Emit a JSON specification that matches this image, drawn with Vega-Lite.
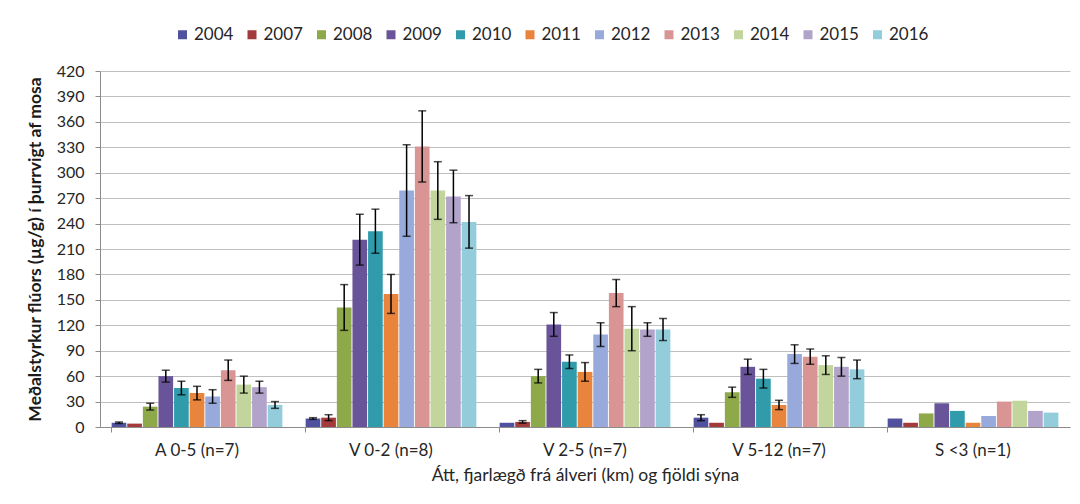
{
  "$schema": "https://vega.github.io/schema/vega-lite/v6.json",
  "width": 970,
  "height": 356,
  "autosize": {"type": "none"},
  "padding": {"left": 100, "top": 71, "right": 10, "bottom": 77},
  "background": "white",
  "config": {
    "font": "Lato",
    "view": {"stroke": null},
    "axis": {"labelFont": "Lato", "titleFont": "Lato"},
    "axisY": {
      "titleFontSize": 17.5,
      "titleFontWeight": "bold",
      "titleColor": "#1a1a1a",
      "titlePadding": 12,
      "labelOverlap": false,
      "labelFontSize": 16,
      "labelColor": "#262626",
      "labelPadding": 11,
      "domainColor": "#8c8c8c",
      "tickColor": "#8c8c8c",
      "tickSize": 5,
      "gridColor": "#bfbfbf",
      "gridWidth": 1
    }
  },
  "data": {
    "values": [
      {"group": "A 0-5 (n=7)", "year": "2004", "value": 5, "lo": 4, "hi": 6},
      {"group": "A 0-5 (n=7)", "year": "2007", "value": 4, "lo": null, "hi": null},
      {"group": "A 0-5 (n=7)", "year": "2008", "value": 24, "lo": 20, "hi": 28},
      {"group": "A 0-5 (n=7)", "year": "2009", "value": 60, "lo": 53, "hi": 67},
      {"group": "A 0-5 (n=7)", "year": "2010", "value": 46, "lo": 38, "hi": 54},
      {"group": "A 0-5 (n=7)", "year": "2011", "value": 40, "lo": 32, "hi": 48},
      {"group": "A 0-5 (n=7)", "year": "2012", "value": 36, "lo": 28, "hi": 44},
      {"group": "A 0-5 (n=7)", "year": "2013", "value": 67, "lo": 55, "hi": 79},
      {"group": "A 0-5 (n=7)", "year": "2014", "value": 50, "lo": 40, "hi": 60},
      {"group": "A 0-5 (n=7)", "year": "2015", "value": 47, "lo": 40, "hi": 54},
      {"group": "A 0-5 (n=7)", "year": "2016", "value": 26, "lo": 22, "hi": 30},
      {"group": "V 0-2 (n=8)", "year": "2004", "value": 10, "lo": 9, "hi": 11},
      {"group": "V 0-2 (n=8)", "year": "2007", "value": 11, "lo": 7.5, "hi": 14.5},
      {"group": "V 0-2 (n=8)", "year": "2008", "value": 141, "lo": 114, "hi": 168},
      {"group": "V 0-2 (n=8)", "year": "2009", "value": 221, "lo": 191, "hi": 251},
      {"group": "V 0-2 (n=8)", "year": "2010", "value": 231, "lo": 205, "hi": 257},
      {"group": "V 0-2 (n=8)", "year": "2011", "value": 157, "lo": 134, "hi": 180},
      {"group": "V 0-2 (n=8)", "year": "2012", "value": 279, "lo": 225, "hi": 333},
      {"group": "V 0-2 (n=8)", "year": "2013", "value": 331, "lo": 289, "hi": 373},
      {"group": "V 0-2 (n=8)", "year": "2014", "value": 279, "lo": 245, "hi": 313},
      {"group": "V 0-2 (n=8)", "year": "2015", "value": 272, "lo": 241, "hi": 303},
      {"group": "V 0-2 (n=8)", "year": "2016", "value": 242, "lo": 211, "hi": 273},
      {"group": "V 2-5 (n=7)", "year": "2004", "value": 5, "lo": null, "hi": null},
      {"group": "V 2-5 (n=7)", "year": "2007", "value": 6, "lo": 4.5, "hi": 7.5},
      {"group": "V 2-5 (n=7)", "year": "2008", "value": 60, "lo": 52, "hi": 68},
      {"group": "V 2-5 (n=7)", "year": "2009", "value": 121, "lo": 107, "hi": 135},
      {"group": "V 2-5 (n=7)", "year": "2010", "value": 77, "lo": 69, "hi": 85},
      {"group": "V 2-5 (n=7)", "year": "2011", "value": 65, "lo": 54, "hi": 76},
      {"group": "V 2-5 (n=7)", "year": "2012", "value": 109, "lo": 95, "hi": 123},
      {"group": "V 2-5 (n=7)", "year": "2013", "value": 158, "lo": 142, "hi": 174},
      {"group": "V 2-5 (n=7)", "year": "2014", "value": 116, "lo": 90, "hi": 142},
      {"group": "V 2-5 (n=7)", "year": "2015", "value": 115, "lo": 107, "hi": 123},
      {"group": "V 2-5 (n=7)", "year": "2016", "value": 115, "lo": 102, "hi": 128},
      {"group": "V 5-12 (n=7)", "year": "2004", "value": 11, "lo": 7.5, "hi": 14.5},
      {"group": "V 5-12 (n=7)", "year": "2007", "value": 5, "lo": null, "hi": null},
      {"group": "V 5-12 (n=7)", "year": "2008", "value": 41, "lo": 35, "hi": 47},
      {"group": "V 5-12 (n=7)", "year": "2009", "value": 71, "lo": 62, "hi": 80},
      {"group": "V 5-12 (n=7)", "year": "2010", "value": 57, "lo": 46, "hi": 68},
      {"group": "V 5-12 (n=7)", "year": "2011", "value": 26, "lo": 20.5, "hi": 31.5},
      {"group": "V 5-12 (n=7)", "year": "2012", "value": 86, "lo": 75, "hi": 97},
      {"group": "V 5-12 (n=7)", "year": "2013", "value": 83, "lo": 74, "hi": 92},
      {"group": "V 5-12 (n=7)", "year": "2014", "value": 73, "lo": 62, "hi": 84},
      {"group": "V 5-12 (n=7)", "year": "2015", "value": 71, "lo": 60, "hi": 82},
      {"group": "V 5-12 (n=7)", "year": "2016", "value": 68, "lo": 57, "hi": 79},
      {"group": "S <3 (n=1)", "year": "2004", "value": 10, "lo": null, "hi": null},
      {"group": "S <3 (n=1)", "year": "2007", "value": 5, "lo": null, "hi": null},
      {"group": "S <3 (n=1)", "year": "2008", "value": 16, "lo": null, "hi": null},
      {"group": "S <3 (n=1)", "year": "2009", "value": 28, "lo": null, "hi": null},
      {"group": "S <3 (n=1)", "year": "2010", "value": 19, "lo": null, "hi": null},
      {"group": "S <3 (n=1)", "year": "2011", "value": 5, "lo": null, "hi": null},
      {"group": "S <3 (n=1)", "year": "2012", "value": 13, "lo": null, "hi": null},
      {"group": "S <3 (n=1)", "year": "2013", "value": 30, "lo": null, "hi": null},
      {"group": "S <3 (n=1)", "year": "2014", "value": 31, "lo": null, "hi": null},
      {"group": "S <3 (n=1)", "year": "2015", "value": 19, "lo": null, "hi": null},
      {"group": "S <3 (n=1)", "year": "2016", "value": 17, "lo": null, "hi": null}
    ]
  },
  "encoding": {
    "x": {
      "field": "group",
      "type": "nominal",
      "sort": null,
      "scale": {"paddingInner": 0.12, "paddingOuter": 0.06},
      "axis": {
        "title": "Átt, fjarlægð frá álveri (km) og fjöldi sýna",
        "titleFontSize": 17.5,
        "titleFontWeight": "normal",
        "titleColor": "#262626",
        "titlePadding": 8,
        "labelAngle": 0,
        "labelFontSize": 17,
        "labelColor": "#262626",
        "labelPadding": 10,
        "domainColor": "#8c8c8c",
        "tickColor": "#8c8c8c",
        "tickSize": 5,
        "bandPosition": 0,
        "grid": false
      }
    },
    "xOffset": {"field": "year", "type": "nominal", "sort": null, "scale": {"paddingInner": 0.06}}
  },
  "layer": [
    {
      "mark": {"type": "bar"},
      "encoding": {
        "y": {
          "field": "value",
          "type": "quantitative",
          "scale": {"domain": [0, 420], "nice": false},
          "axis": {
            "title": "Meðalstyrkur flúors (µg/g) í þurrvigt af mosa",
            "values": [0, 30, 60, 90, 120, 150, 180, 210, 240, 270, 300, 330, 360, 390, 420]
          }
        },
        "color": {
          "field": "year",
          "type": "nominal",
          "sort": null,
          "scale": {
            "domain": ["2004", "2007", "2008", "2009", "2010", "2011", "2012", "2013", "2014", "2015", "2016"],
            "range": ["#50519f", "#a33b3d", "#8ea94a", "#6a5499", "#2f9bab", "#e8843c", "#98aadc", "#d99594", "#c2d59c", "#b1a3c9", "#93ccda"]
          },
          "legend": {
            "title": null,
            "orient": "none",
            "legendX": 74,
            "legendY": -45,
            "direction": "horizontal",
            "columns": 11,
            "symbolType": "square",
            "symbolSize": 81,
            "symbolStrokeWidth": 0,
            "labelFontSize": 17,
            "labelColor": "#262626",
            "labelOffset": 3,
            "columnPadding": 9.5
          }
        }
      }
    },
    {
      "transform": [{"filter": "datum.lo != null"}],
      "mark": {"type": "rule", "color": "black", "strokeWidth": 1.5},
      "encoding": {
        "y": {
          "field": "lo",
          "type": "quantitative",
          "axis": {
            "title": "Meðalstyrkur flúors (µg/g) í þurrvigt af mosa",
            "values": [0, 30, 60, 90, 120, 150, 180, 210, 240, 270, 300, 330, 360, 390, 420]
          }
        },
        "y2": {"field": "hi"}
      }
    },
    {
      "transform": [{"filter": "datum.lo != null"}],
      "mark": {"type": "tick", "color": "black", "thickness": 1.5, "size": 8},
      "encoding": {
        "y": {
          "field": "lo",
          "type": "quantitative",
          "axis": {
            "title": "Meðalstyrkur flúors (µg/g) í þurrvigt af mosa",
            "values": [0, 30, 60, 90, 120, 150, 180, 210, 240, 270, 300, 330, 360, 390, 420]
          }
        }
      }
    },
    {
      "transform": [{"filter": "datum.lo != null"}],
      "mark": {"type": "tick", "color": "black", "thickness": 1.5, "size": 8},
      "encoding": {
        "y": {
          "field": "hi",
          "type": "quantitative",
          "axis": {
            "title": "Meðalstyrkur flúors (µg/g) í þurrvigt af mosa",
            "values": [0, 30, 60, 90, 120, 150, 180, 210, 240, 270, 300, 330, 360, 390, 420]
          }
        }
      }
    }
  ]
}
